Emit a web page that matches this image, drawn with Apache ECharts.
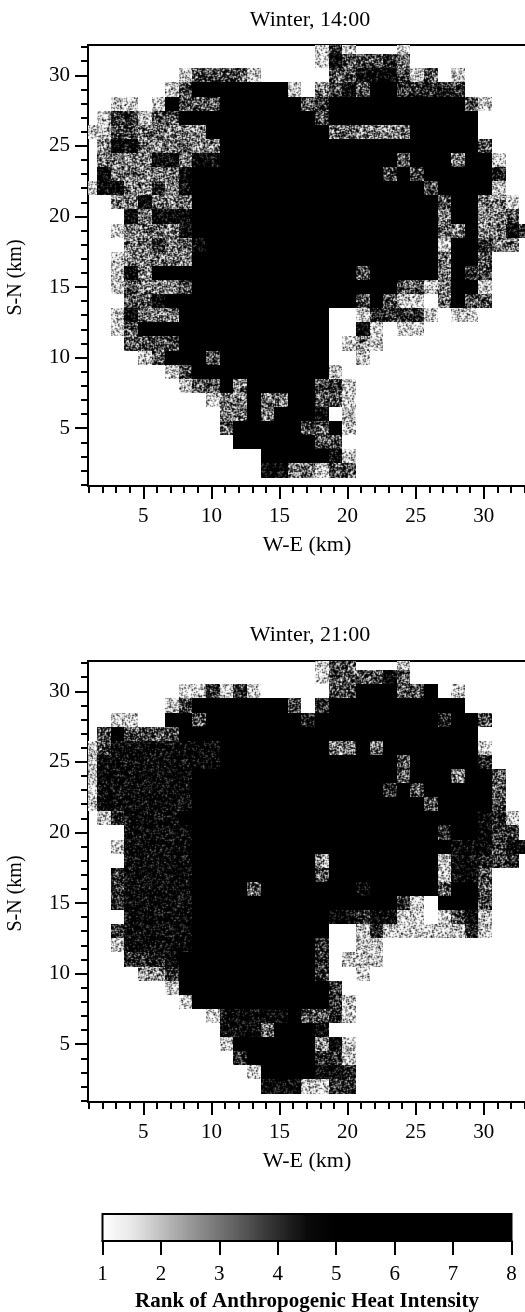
<!DOCTYPE html>
<html>
<head>
<meta charset="utf-8">
<style>html,body{margin:0;padding:0;background:#fff}#c{width:525px;height:1312px}</style>
<script src="https://cdn.jsdelivr.net/npm/echarts@6/dist/echarts.min.js"></script>
</head>
<body>
<div id="c"></div>
<script>
// Rank codes ('.' = no cell)
const rankByCode = {a:2, b:2.5, c:3, d:3.5, e:4, f:4.5, g:6};
// Rows from S-N 32 km down to 1 km; each string holds W-E 1..33 km
const winter14 = [
".................aea...a.........",
".................afdddec.........",
".......adddda.....ddfffdad.a.....",
"......adggggggga.cdfdggeeeee.....",
"..aa.agdddggggggdeggggggggggda...",
".aeeaddggggggggggdggggggggggg....",
"aaddcccccgggggggggccccccggggg....",
".cffccccccgggggggggggggggggggd...",
".ccccffcffgggggggggggggdgggcgga..",
".fcccccfggggggggggggggdgdggggge..",
"affccecfgggggggggggggggggdgggga..",
"..ccfcccggggggggggggggggggdggcca.",
"...fcfffggggggggggggggggggcggccd.",
"..accccfggggggggggggggggggccgccfe",
"...cceccfgggggggggggggggggaggecc.",
"..acccccggggggggggggggggggcggd...",
"..afcgggggggggggggggdgggggcged...",
"..adcccdgggggggggggggggddacgga...",
"...ddfggggggggggggggdgdaa.cgdd...",
"..afcccggggggggggg..aeeeea.aa....",
"..adgggggggggggggg..fa.aa........",
"...ddddggggggggggg.aba...........",
"....adgggdgggggggg..a............",
"......adgggggggggga..............",
".......addgcgggggdea.............",
".........accgccggdda.............",
"..........ccgcgggf.a.............",
"..........dgggggddga.............",
"...........ggggggdd..............",
".............gggggfa.............",
".............ffccadd.............",
"................................."
];
const winter21 = [
".................add...a.........",
".................addddfd.........",
".......aaeaea.....ddgggddg.a.....",
"......adgggggggd.egggggggggg.....",
"..aa..ggdgggggggegggggggggeggd...",
".dgddddgggggggggggggggggggggg....",
"adffffffffggggggggccgcggggggga...",
"afffffffffgggggggggggggdggggge...",
"afffffffgggggggggggggggdgggcggd..",
"afffffffggggggggggggggegdgggggd..",
"afffffffgggggggggggggggggdggggd..",
".aeffffggggggggggggggggggggggfea.",
"...fffffggggggggggggggggggeggfee.",
"..afffffgggggggggggggggggggfffdff",
"...fffffgggggggggbggggggggaffeee.",
"..efffffgggggggggdggggggggaffd...",
"..efffffggggdgggggggfgggggdggd...",
"..efffffgggggggggggggggea.gggd...",
"...fffffggggggggggffeffaa.adfa...",
"..efffffgggggggggg..aeaaaaaaea...",
"..afffffggggggggge..aa...........",
"...eeefgggggggggge.aaa...........",
"....bbegggggggggge..a............",
"......aggggggggggge..............",
".......aggggggggggea.............",
".........afffffgddea.............",
"..........fffcgggf...............",
"..........aggggggbfa.............",
"...........egggggeea.............",
"............aggggffe.............",
".............fffaaee.............",
"................................."
];
const xMajorTicks = [5,10,15,20,25,30];
const yMajorTicks = [5,10,15,20,25,30];
const xMinorTicks = [1,2,3,4,5,6,7,8,9,10,11,12,13,14,15,16,17,18,19,20,21,22,23,24,25,26,27,28,29,30,31,32,33];
const yMinorTicks = [1,2,3,4,5,6,7,8,9,10,11,12,13,14,15,16,17,18,19,20,21,22,23,24,25,26,27,28,29,30,31,32];
const rankTicks = [1,2,3,4,5,6,7,8];
const rankColors = ['#ffffff','#e8e8e8','#c0c0c0','#989898','#747474','#505050','#2c2c2c','#0a0a0a','#000000','#000000','#000000','#000000','#000000','#000000','#000000'];

function toCells(rows){
  const out=[];
  rows.forEach((row,i)=>{
    const y=32-i;
    for(let k=0;k<row.length && k<33;k++){
      const r=rankByCode[row[k]];
      if(r!==undefined) out.push([k+1,y,r]);
    }
  });
  return out;
}
// Print-like halftone: a fixed, hash-based grain turns each gray into soft dark/light specks.
const grainCache={};
function grainFill(color){
  const m=String(color).match(/\d+(\.\d+)?/g);
  const gray=m?(color[0]==='#'?parseInt(color.slice(1,3),16):+m[0]):0;
  const level=Math.round(gray/8)*8;
  if(level<=0) return '#000';
  if(grainCache[level]) return grainCache[level];
  const S=96,cv=document.createElement('canvas');cv.width=S;cv.height=S;
  const ctx=cv.getContext('2d'),img=ctx.createImageData(S,S);
  const hash=(x,y)=>{x=(x+S)%S;y=(y+S)%S;let h=(x*374761393+y*668265263+level*97)|0;h=Math.imul(h^(h>>>13),1274126177);h=Math.imul(h^(h>>>15),2246822519);return ((h^(h>>>16))>>>0)/4294967296;};
  const dot=(x,y)=>Math.max(0,Math.min(1,(level/255-hash(x,y))*3+0.5));
  for(let y=0;y<S;y++)for(let x=0;x<S;x++){
    const t=0.44*dot(x,y)+0.14*(dot(x+1,y)+dot(x-1,y)+dot(x,y+1)+dot(x,y-1));
    const v=Math.round(t*255),i=(y*S+x)*4;
    img.data[i]=img.data[i+1]=img.data[i+2]=v;img.data[i+3]=255;
  }
  ctx.putImageData(img,0,0);
  return grainCache[level]={image:cv,repeat:'repeat'};
}
const FONT='"Liberation Serif","Times New Roman",serif';
const black='#000';
function renderCell(params,api){
  const nudge=1.5;
  const a=api.coord([api.value(0)-0.5,api.value(1)+0.5]);
  const b=api.coord([api.value(0)+0.5,api.value(1)-0.5]);
  const x0=Math.round(a[0]+nudge),x1=Math.round(b[0]+nudge),y0=Math.round(a[1]),y1=Math.round(b[1]);
  const rect=echarts.graphic.clipRectByRect({x:x0,y:y0,width:x1-x0,height:y1-y0},{
    x:params.coordSys.x,y:params.coordSys.y,width:params.coordSys.width,height:params.coordSys.height});
  if(!rect) return;
  return {type:'rect',shape:rect,style:{fill:grainFill(api.visual('color'))}};
}
const XMIN=0.94,XMAX=33.1,YMIN=0.9,YMAX=32.15;
function xMajor(gridIndex){return {type:'value',gridIndex,min:XMIN,max:XMAX,position:'bottom',
  name:'W-E (km)',nameLocation:'middle',nameGap:48,nameTextStyle:{fontFamily:FONT,fontSize:22,color:black,padding:[0,0,0,0]},
  axisLine:{show:true,onZero:false,lineStyle:{color:black,width:2}},
  axisTick:{show:true,length:13,lineStyle:{color:black,width:2},customValues:xMajorTicks},
  axisLabel:{show:true,margin:20,fontFamily:FONT,fontSize:21,color:black,customValues:xMajorTicks},
  splitLine:{show:false}};}
function xMinor(gridIndex){return {type:'value',gridIndex,min:XMIN,max:XMAX,position:'bottom',
  axisLine:{show:false,onZero:false},
  axisTick:{show:true,length:7,lineStyle:{color:black,width:2},customValues:xMinorTicks},
  axisLabel:{show:false},splitLine:{show:false}};}
function yMajor(gridIndex){return {type:'value',gridIndex,min:YMIN,max:YMAX,position:'left',
  name:'S-N (km)',nameLocation:'middle',nameGap:62,nameTextStyle:{fontFamily:FONT,fontSize:20,color:black,padding:[0,24,0,0]},
  axisLine:{show:true,onZero:false,lineStyle:{color:black,width:2}},
  axisTick:{show:true,length:13,lineStyle:{color:black,width:2},customValues:yMajorTicks},
  axisLabel:{show:true,margin:18,fontFamily:FONT,fontSize:21,color:black,customValues:yMajorTicks},
  splitLine:{show:false}};}
function yMinor(gridIndex){return {type:'value',gridIndex,min:YMIN,max:YMAX,position:'left',
  axisLine:{show:false,onZero:false},
  axisTick:{show:true,length:7,lineStyle:{color:black,width:2},customValues:yMinorTicks},
  axisLabel:{show:false},splitLine:{show:false}};}
const frame={show:true,borderColor:black,borderWidth:2,backgroundColor:'transparent',outerBoundsMode:'none'};
const chart=echarts.init(document.getElementById('c'),null,{renderer:'canvas'});
chart.setOption({
  animation:false,
  backgroundColor:'#fff',
  title:[
    {text:'Winter, 14:00',left:305,top:4,textAlign:'center',textStyle:{fontFamily:FONT,fontSize:22,fontWeight:'normal',color:black}},
    {text:'Winter, 21:00',left:305,top:619,textAlign:'center',textStyle:{fontFamily:FONT,fontSize:22,fontWeight:'normal',color:black}}
  ],
  grid:[
    Object.assign({left:88,top:45,width:438,height:441},frame),
    Object.assign({left:88,top:661,width:438,height:441},frame),
    Object.assign({left:102.5,top:1214,width:409,height:27},frame,{z:10})
  ],
  xAxis:[xMajor(0),xMinor(0),xMajor(1),xMinor(1),
    {type:'value',gridIndex:2,min:1,max:8,interval:1,position:'bottom',
     name:'Rank of Anthropogenic Heat Intensity',nameLocation:'middle',nameGap:50,
     nameTextStyle:{fontFamily:FONT,fontSize:21,fontWeight:'bold',color:black,padding:[0,0,0,0]},
     axisLine:{show:true,onZero:false,lineStyle:{color:black,width:2}},
     axisTick:{show:true,length:14,lineStyle:{color:black,width:2},customValues:rankTicks},
     axisLabel:{show:true,margin:23,fontFamily:FONT,fontSize:21,color:black,customValues:rankTicks},
     splitLine:{show:false}}],
  yAxis:[yMajor(0),yMinor(0),yMajor(1),yMinor(1),
    {type:'value',gridIndex:2,min:0,max:1,show:false}],
  visualMap:{type:'continuous',orient:'horizontal',min:1,max:8,dimension:2,seriesIndex:[0,1],
    left:102.5,top:1214,itemWidth:27,itemHeight:409,padding:0,calculable:false,realtime:false,
    showLabel:false,text:null,hoverLink:false,inRange:{color:rankColors}},
  series:[
    {type:'custom',name:'Winter, 14:00',xAxisIndex:0,yAxisIndex:0,coordinateSystem:'cartesian2d',
     data:toCells(winter14),renderItem:renderCell,encode:{x:0,y:1},silent:true,clip:true,z:1},
    {type:'custom',name:'Winter, 21:00',xAxisIndex:2,yAxisIndex:2,coordinateSystem:'cartesian2d',
     data:toCells(winter21),renderItem:renderCell,encode:{x:0,y:1},silent:true,clip:true,z:1}
  ]
});
</script>
</body>
</html>
